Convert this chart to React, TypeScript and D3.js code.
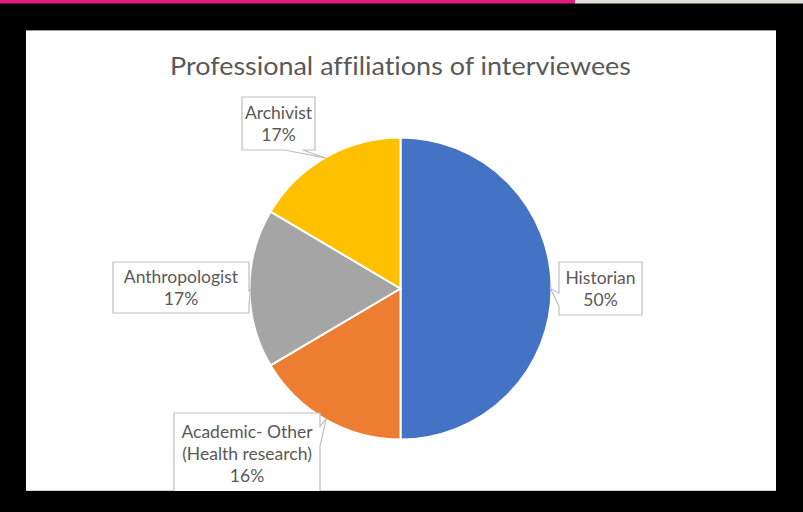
import React from "react";
import * as d3 from "d3";

const categories = ["Historian", "Academic- Other (Health research)", "Anthropologist", "Archivist"];
const labelLines = [["Historian"], ["Academic- Other", "(Health research)"], ["Anthropologist"], ["Archivist"]];
const values = [50, 16.5, 17, 16.5];
const pctLabels = ["50%", "16%", "17%", "17%"];
const colors = ["#4472C4", "#ED7D31", "#A5A5A5", "#FFC000"];
const title = "Professional affiliations of interviewees";

// layout of the data-label callout boxes (x, y, w, h)
const labelBoxes = [
  { x: 559, y: 262, w: 83, h: 53 },
  { x: 174, y: 413, w: 146, h: 80 },
  { x: 113, y: 262, w: 136, h: 51 },
  { x: 242, y: 97, w: 73, h: 53 },
];

const W = 803;
const H = 512;
const cx = 400.5;
const cy = 288.5;
const R = 151;
const FONT = "Lato, 'Open Sans', sans-serif";

function calloutPath(b: { x: number; y: number; w: number; h: number }, tx: number, ty: number) {
  const l = b.x, t = b.y, r = b.x + b.w, bt = b.y + b.h, w = b.w, h = b.h;
  const hc = l + w / 2, vc = t + h / 2;
  const dx = tx - hc, dy = ty - vc;
  const dq = (dx * h) / w;
  const dz = Math.abs(dy) - Math.abs(dq);
  const xg1 = dx > 0 ? 7 : 2, xg2 = dx > 0 ? 10 : 5;
  const yg1 = dy > 0 ? 7 : 2, yg2 = dy > 0 ? 10 : 5;
  const x1 = l + (w * xg1) / 12, x2 = l + (w * xg2) / 12;
  const y1 = t + (h * yg1) / 12, y2 = t + (h * yg2) / 12;
  const p = d3.path();
  p.moveTo(l, t);
  if (dz > 0 && dy < 0) { p.lineTo(x1, t); p.lineTo(tx, ty); p.lineTo(x2, t); }
  p.lineTo(r, t);
  if (dz <= 0 && dx > 0) { p.lineTo(r, y1); p.lineTo(tx, ty); p.lineTo(r, y2); }
  p.lineTo(r, bt);
  if (dz > 0 && dy > 0) { p.lineTo(x2, bt); p.lineTo(tx, ty); p.lineTo(x1, bt); }
  p.lineTo(l, bt);
  if (dz <= 0 && dx < 0) { p.lineTo(l, y2); p.lineTo(tx, ty); p.lineTo(l, y1); }
  p.closePath();
  return p.toString();
}

export default function App() {
  const pie = d3.pie<number>().sort(null).startAngle(0).endAngle(2 * Math.PI);
  const arcs = pie(values);
  const arc = d3.arc<d3.PieArcDatum<number>>().innerRadius(0).outerRadius(R);
  const rim = d3.arc<d3.PieArcDatum<number>>().innerRadius(R - 1).outerRadius(R - 1);

  return (
    <svg width={W} height={H} style={{ position: "absolute", left: 0, top: 0, display: "block", fontVariantLigatures: "none" }}>
      <defs>
        <clipPath id="plotclip">
          <rect x={26} y={30} width={750} height={461} />
        </clipPath>
      </defs>
      <rect x={0} y={0} width={W} height={H} fill="#000" />
      <rect x={0} y={0} width={575} height={3.5} fill="#E11B7C" />
      <rect x={575} y={0} width={228} height={3.5} fill="#E0DDD8" />
      <rect x={26} y={30} width={750} height={461} fill="#fff" />
      <line x1={26} x2={776} y1={30.5} y2={30.5} stroke="#9a9a9a" strokeWidth={1} />
      <line x1={26} x2={776} y1={490.5} y2={490.5} stroke="#d0d0d0" strokeWidth={1} />
      <text x={cx} y={74.5} textAnchor="middle" fontFamily={FONT} fontSize={25} textLength={461} lengthAdjust="spacingAndGlyphs" fill="#595959">
        {title}
      </text>
      <g transform={`translate(${cx},${cy})`}>
        {arcs.map((a, i) => (
          <path key={categories[i]} d={arc(a) || ""} fill={colors[i]} stroke="#fff" strokeWidth={2} />
        ))}
      </g>
      <g clipPath="url(#plotclip)">
        {arcs.map((a, i) => {
          const [px, py] = rim.centroid(a);
          const tx = cx + px, ty = cy + py;
          const b = labelBoxes[i];
          const lines = [...labelLines[i], pctLabels[i]];
          const lh = 22;
          const mid = b.y + b.h / 2;
          const first = mid - ((lines.length - 1) * lh) / 2 + 6.5;
          return (
            <g key={categories[i]}>
              <path d={calloutPath(b, tx, ty)} fill="#fff" stroke="#BFBFBF" strokeWidth={1.2} />
              {lines.map((ln, j) => (
                <text key={j} x={b.x + b.w / 2} y={first + j * lh} textAnchor="middle" fontFamily={FONT} fontSize={17.5} fill="#595959">
                  {ln}
                </text>
              ))}
            </g>
          );
        })}
      </g>
    </svg>
  );
}
